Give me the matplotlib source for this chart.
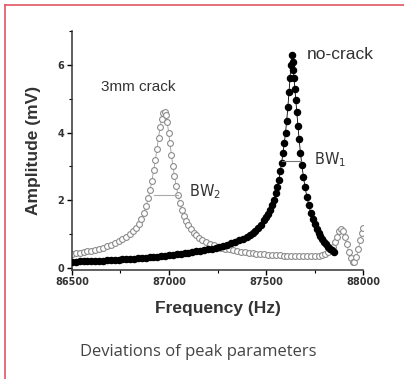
import numpy as np
import matplotlib
matplotlib.use("Agg")
import matplotlib.pyplot as plt
from matplotlib.lines import Line2D
from matplotlib.ticker import MultipleLocator

# resonance sweep, intact specimen (Hz, mV)
f_nocrack = [86500, 86520, 86540, 86560, 86580, 86600, 86620, 86640, 86660, 86680,
             86700, 86720, 86740, 86760, 86780, 86800, 86820, 86840, 86860, 86880,
             86900, 86920, 86940, 86960, 86980, 87000, 87020, 87040, 87060, 87080,
             87100, 87120, 87140, 87160, 87180, 87200, 87220, 87240, 87260, 87280,
             87300, 87320, 87340, 87360, 87380, 87400, 87415, 87430, 87445, 87460,
             87475, 87490, 87500, 87510, 87520, 87530, 87540, 87550, 87558, 87566,
             87573, 87580, 87587, 87594, 87600, 87606, 87612, 87618, 87623, 87628,
             87632, 87636, 87640, 87644, 87648, 87653, 87658, 87664, 87670, 87677,
             87684, 87692, 87700, 87710, 87720, 87730, 87740, 87750, 87760, 87770,
             87780, 87790, 87800, 87810, 87820, 87830, 87840, 87850]
a_nocrack = [0.18, 0.18, 0.19, 0.19, 0.19, 0.20, 0.20, 0.21, 0.21, 0.22,
             0.22, 0.23, 0.24, 0.25, 0.25, 0.26, 0.27, 0.28, 0.29, 0.30,
             0.31, 0.32, 0.33, 0.35, 0.36, 0.37, 0.39, 0.40, 0.42, 0.44,
             0.45, 0.47, 0.49, 0.51, 0.53, 0.55, 0.57, 0.59, 0.62, 0.65,
             0.68, 0.72, 0.76, 0.81, 0.86, 0.92, 0.97, 1.03, 1.10, 1.18,
             1.28, 1.40, 1.50, 1.60, 1.72, 1.85, 2.00, 2.20, 2.40, 2.60,
             2.85, 3.10, 3.40, 3.70, 4.00, 4.35, 4.75, 5.20, 5.60, 6.00,
             6.30, 6.10, 5.85, 5.60, 5.30, 4.95, 4.60, 4.20, 3.80, 3.40,
             3.05, 2.70, 2.40, 2.10, 1.85, 1.62, 1.45, 1.30, 1.16, 1.04,
             0.94, 0.85, 0.77, 0.70, 0.63, 0.57, 0.52, 0.47]

# resonance sweep, 3 mm crack
f_crack = [86500, 86520, 86540, 86560, 86580, 86600, 86620, 86640, 86660, 86680,
           86700, 86720, 86740, 86760, 86780, 86800, 86815, 86830, 86845, 86858,
           86870, 86882, 86893, 86903, 86912, 86921, 86930, 86938, 86946, 86954,
           86962, 86970, 86977, 86984, 86991, 86998, 87005, 87012, 87020, 87028,
           87037, 87046, 87056, 87066, 87077, 87088, 87100, 87113, 87127, 87141,
           87156, 87172, 87190, 87210, 87230, 87250, 87270, 87290, 87310, 87330,
           87350, 87370, 87390, 87410, 87430, 87450, 87470, 87490, 87510, 87530,
           87550, 87570, 87590, 87610, 87630, 87650, 87670, 87690, 87710, 87730,
           87750, 87770, 87790, 87805, 87820, 87833, 87845, 87855, 87865, 87875,
           87885, 87895, 87905, 87915, 87925, 87935, 87945, 87955, 87965, 87975,
           87985, 87993, 88000]
a_crack = [0.42, 0.43, 0.45, 0.47, 0.49, 0.51, 0.54, 0.57, 0.60, 0.64,
           0.68, 0.73, 0.78, 0.84, 0.91, 1.00, 1.08, 1.18, 1.30, 1.45,
           1.62, 1.82, 2.05, 2.30, 2.58, 2.88, 3.20, 3.52, 3.85, 4.15,
           4.40, 4.58, 4.62, 4.52, 4.30, 4.00, 3.68, 3.35, 3.02, 2.72,
           2.42, 2.15, 1.92, 1.72, 1.54, 1.39, 1.26, 1.14, 1.04, 0.96,
           0.89, 0.82, 0.76, 0.71, 0.67, 0.63, 0.60, 0.57, 0.55, 0.52,
           0.50, 0.48, 0.46, 0.45, 0.43, 0.42, 0.41, 0.40, 0.39, 0.38,
           0.37, 0.37, 0.36, 0.36, 0.35, 0.35, 0.34, 0.34, 0.34, 0.34,
           0.35, 0.36, 0.38, 0.42, 0.48, 0.55, 0.62, 0.75, 0.92, 1.08,
           1.15, 1.08, 0.92, 0.70, 0.48, 0.30, 0.17, 0.18, 0.32, 0.55,
           0.82, 1.02, 1.18]

# half-power bandwidth markers
bw1_f = [87580, 87680]
bw1_a = 3.15
bw2_f = [86925, 87045]
bw2_a = 2.15

fig = plt.figure(figsize=(4.04, 3.79), dpi=100)
ax = fig.add_axes([0.178, 0.288, 0.721, 0.630])

ax.plot(f_nocrack, a_nocrack, color="black", lw=0.6, marker="o", ms=4.4,
        mfc="black", mec="black", zorder=3)
ax.plot(f_crack, a_crack, color="#9a9a9a", lw=0.6, marker="o", ms=4.2,
        mfc="white", mec="#8c8c8c", mew=0.8, zorder=2)
ax.plot(bw1_f, [bw1_a, bw1_a], color="#777777", lw=0.8, zorder=4)
ax.plot(bw2_f, [bw2_a, bw2_a], color="#aaaaaa", lw=0.8, zorder=4)

ax.text(87745, 3.2, "BW$_1$", fontsize=10.5, color="#333333", va="center")
ax.text(87105, 2.25, "BW$_2$", fontsize=10.5, color="#333333", va="center")
ax.text(86650, 5.35, "3mm crack", fontsize=11, color="#333333", va="center",
        family="Liberation Sans")
ax.text(87710, 6.3, "no-crack", fontsize=12.5, color="#333333", va="center",
        family="Liberation Sans")

ax.set_xlim(86500, 88000)
ax.set_ylim(-0.06, 7.0)
ax.set_xticks([86500, 87000, 87500, 88000])
ax.set_yticks([0, 2, 4, 6])
ax.xaxis.set_minor_locator(MultipleLocator(250))
ax.yaxis.set_minor_locator(MultipleLocator(1))
ax.tick_params(which="major", direction="out", length=3.5, width=1,
               labelsize=7, pad=2)
ax.tick_params(which="minor", direction="out", length=2, width=0.8)
for lab in ax.get_xticklabels() + ax.get_yticklabels():
    lab.set_fontweight("bold")
    lab.set_color("#333333")

for side in ("top", "right"):
    ax.spines[side].set_visible(False)
for side in ("left", "bottom"):
    ax.spines[side].set_linewidth(1.1)
    ax.spines[side].set_color("#333333")

ax.set_xlabel("Frequency (Hz)", fontsize=12.5, fontweight="bold",
              family="Liberation Sans", color="#333333", labelpad=10)
ax.set_ylabel("Amplitude (mV)", fontsize=12.5, fontweight="bold",
              family="Liberation Sans", color="#333333", labelpad=12)

fig.text(0.49, 0.07, "Deviations of peak parameters", ha="center", va="center",
         fontsize=12, color="#444444", family="Open Sans")

# red frame along the top and left edges
red = "#e05560"
fig.add_artist(Line2D([0.012, 1.0], [0.988, 0.988], color=red, lw=1.2,
                      transform=fig.transFigure))
fig.add_artist(Line2D([0.012, 0.012], [0.0, 0.988], color=red, lw=1.2,
                      transform=fig.transFigure))

fig.savefig("out.png", dpi=100)
